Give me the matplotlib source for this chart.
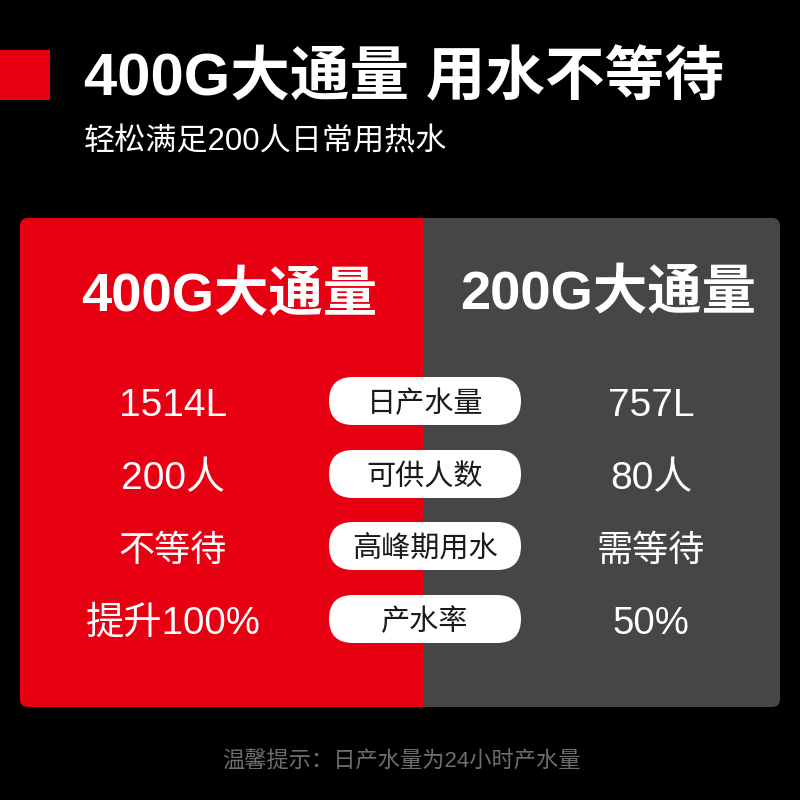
import matplotlib
matplotlib.use('Agg')
import matplotlib.pyplot as plt
from matplotlib.patches import FancyBboxPatch, Rectangle

plt.rcParams['font.family'] = ['Liberation Sans', 'Noto Sans CJK SC', 'DejaVu Sans']

title = '400G大通量 用水不等待'
subtitle = '轻松满足200人日常用热水'
left_head = '400G大通量'
right_head = '200G大通量'
labels = ['日产水量', '可供人数', '高峰期用水', '产水率']
left_vals = ['1514L', '200人', '不等待', '提升100%']
right_vals = ['757L', '80人', '需等待', '50%']
note = '温馨提示：日产水量为24小时产水量'
row_y = [401, 474, 546, 619]
row_size = [28, 28, 26, 27.6]

fig = plt.figure(figsize=(8, 8), dpi=100, facecolor='black')
ax = fig.add_axes([0, 0, 1, 1])
ax.set_xlim(0, 800)
ax.set_ylim(800, 0)
ax.axis('off')

RED = '#e60012'
GRAY = '#464646'

ax.add_patch(Rectangle((0, 50), 50, 50, fc=RED, ec='none'))
ax.text(84, 79, title, fontsize=42.9, fontweight='bold', color='white', va='center', ha='left')
ax.text(84, 142, subtitle, fontsize=22.4, color='white', va='center', ha='left')

clip = FancyBboxPatch((20, 218), 760, 489, boxstyle='round,pad=0,rounding_size=8', fc='none', ec='none')
ax.add_patch(clip)
l = ax.add_patch(Rectangle((20, 218), 403, 489, fc=RED, ec='none'))
r = ax.add_patch(Rectangle((423, 218), 357, 489, fc=GRAY, ec='none'))
l.set_clip_path(clip)
r.set_clip_path(clip)

ax.text(229, 297, left_head, fontsize=39.2, fontweight='bold', color='white', ha='center', va='center')
ax.text(608, 295, right_head, fontsize=39.2, fontweight='bold', color='white', ha='center', va='center')

for y, lab, a, b, s in zip(row_y, labels, left_vals, right_vals, row_size):
    ax.add_patch(FancyBboxPatch((329, y - 24), 192, 48, boxstyle='round,pad=0,rounding_size=24', fc='white', ec='none'))
    ax.text(425, y + 3, lab, fontsize=21, color='#1a1a1a', ha='center', va='center')
    ax.text(173, y + 5, a, fontsize=s, color='white', ha='center', va='center')
    ax.text(651, y + 5, b, fontsize=s, color='white', ha='center', va='center')

ax.text(401, 762, note, fontsize=16, color='#6e6e6e', ha='center', va='center')

fig.savefig('out.png', dpi=100, facecolor='black')
